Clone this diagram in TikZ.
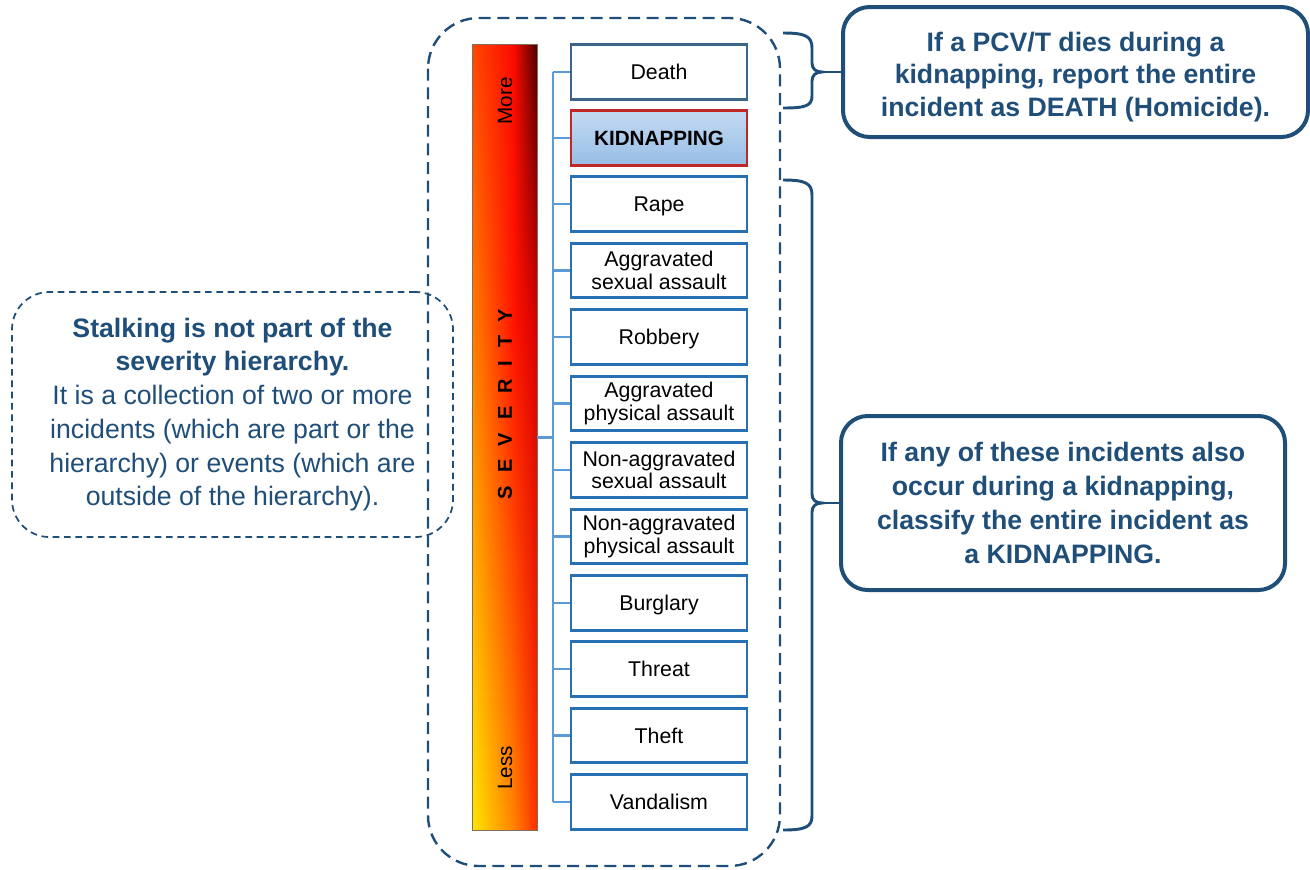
\documentclass[tikz,border=0pt]{standalone}
\usepackage{fontspec}
\setmainfont{Liberation Sans}
\usetikzlibrary{shadings}
\definecolor{navy}{RGB}{31,78,121}
\definecolor{treeblue}{RGB}{91,155,213}
\definecolor{boxblue}{RGB}{40,112,180}
\definecolor{deathblue}{RGB}{62,100,138}
\definecolor{kidred}{RGB}{192,40,40}
\definecolor{kidtop}{RGB}{196,218,242}
\definecolor{kidbot}{RGB}{150,190,230}
% bar colours: L = left column, M = split, R = right edge; T top, C middle, B bottom
\definecolor{LT}{RGB}{255,70,0}
\definecolor{MT}{RGB}{250,10,0}
\definecolor{RT}{RGB}{75,0,0}
\definecolor{LC}{RGB}{255,125,0}
\definecolor{MC}{RGB}{255,20,0}
\definecolor{RC}{RGB}{215,0,0}
\definecolor{LB}{RGB}{255,228,0}
\definecolor{MB}{RGB}{255,130,0}
\definecolor{RB}{RGB}{255,45,0}
\definecolor{barline}{RGB}{130,110,90}
\begin{document}
\begin{tikzpicture}[x=0.75pt,y=-0.75pt,
  crime/.style={draw=boxblue, line width=2.2pt, fill=white, minimum width=132pt,
    minimum height=41pt, inner sep=0pt, align=center,
    font=\fontsize{16}{16.8}\selectfont},
  oneline/.style={text depth=0pt},
  tree/.style={draw=treeblue, line width=1.7pt},
  callout/.style={draw=navy, line width=3pt, rounded corners=20pt, inner sep=0pt},
  callouttext/.style={align=center, text=navy, inner sep=0pt, font=\fontsize{20}{24.2}\selectfont\bfseries},
  bracepath/.style={draw=navy, line width=2.2pt},
  bigframe/.style={draw=navy, line width=1.8pt, dash pattern=on 9pt off 5pt, rounded corners=38pt},
  notebox/.style={draw=navy, line width=1.3pt, dash pattern=on 5pt off 3.5pt, rounded corners=28pt,
    align=center, text=navy, inner sep=0pt, font=\fontsize{20}{25.3}\selectfont},
  barlabel/.style={rotate=90, font=\fontsize{15.5}{18}\selectfont}
]
\useasboundingbox (0,0) rectangle (1310,869);

% big dashed frame
\draw[bigframe] (428,18) rectangle (780,866);

% severity bar
\node[minimum width=48pt, minimum height=588.75pt, inner sep=0pt] (bar) at (505,437.5) {};
\shade[upper left=LT, upper right=MT, lower left=LC, lower right=MC] (473,45) rectangle (514,331);
\shade[upper left=MT, upper right=RT, lower left=MC, lower right=RC] (513.5,45) rectangle (537,331);
\shade[upper left=LC, upper right=MC, lower left=LB, lower right=MB] (473,330) rectangle (514,830);
\shade[upper left=MC, upper right=RC, lower left=MB, lower right=RB] (513.5,330) rectangle (537,830);
\draw[barline, line width=0.8pt] (bar.south west) rectangle (bar.north east);
\node[barlabel] (more) at (505,101) {More};
\node[barlabel] (less) at (505,768) {Less};
\node[rotate=90, font=\fontsize{15}{18}\selectfont\bfseries] (sev) at (505,404)
  {S\hspace{9.8pt}E\hspace{9.8pt}V\hspace{9.8pt}E\hspace{9.8pt}R\hspace{9.8pt}I\hspace{9.8pt}T\hspace{9.8pt}Y};

% boxes
\node[crime, oneline, draw=deathblue] (death) at (659,72) {Death};
\node[crime, oneline, draw=kidred, top color=kidtop, bottom color=kidbot, font=\fontsize{15.5}{16.5}\selectfont\bfseries] (kid) at (659,138) {KIDNAPPING};
\node[crime, oneline] (rape) at (659,204) {Rape};
\node[crime] (ags) at (659,270.5) {Aggravated\\sexual assault};
\node[crime, oneline] (rob) at (659,337) {Robbery};
\node[crime] (agp) at (659,403.5) {Aggravated\\physical assault};
\node[crime] (nas) at (659,470) {Non-aggravated\\sexual assault};
\node[crime] (nap) at (659,536.5) {Non-aggravated\\physical assault};
\node[crime, oneline] (burg) at (659,603) {Burglary};
\node[crime, oneline] (thr) at (659,669) {Threat};
\node[crime, oneline] (theft) at (659,735.5) {Theft};
\node[crime, oneline] (vand) at (659,802) {Vandalism};

% tree connectors
\coordinate (trunk) at (553,0);
\draw[tree] (death.west -| trunk) -- (vand.west -| trunk);
\foreach \b in {death,kid,rape,ags,rob,agp,nas,nap,burg,thr,theft,vand}
  \draw[tree] (\b.west) -- (\b.west -| trunk);
\draw[tree] (bar.east) -- (bar.east -| trunk);

% callouts
\node[callout, minimum width=348.75pt, minimum height=97.5pt] (c1) at (1075.5,72) {};
\node[callouttext] (c1t) at (1075.5,77)
  {If a PCV/T dies during a\\kidnapping, report the entire\\incident as DEATH (Homicide).};
\node[callout, minimum width=333pt, minimum height=130.5pt] (c2) at (1063,503) {};
\node[callouttext, font=\fontsize{20}{25.3}\selectfont\bfseries] (c2t) at (1063,503)
  {If any of these incidents also\\occur during a kidnapping,\\classify the entire incident as\\a KIDNAPPING.};

% braces
\coordinate (t1) at (822,72);
\draw[bracepath] (783,33) .. controls (805,33) and (812,36) .. (812,48) -- (812,63)
  .. controls (812,69) and (816,72) .. (t1) .. controls (816,72) and (812,75) .. (812,81)
  -- (812,96) .. controls (812,106) and (805,108) .. (783,108);
\draw[bracepath] (t1) -- (c1.west);
\coordinate (t2) at (822,503);
\draw[bracepath] (783,180) .. controls (805,180) and (812,183) .. (812,195) -- (812,494)
  .. controls (812,500) and (816,503) .. (t2) .. controls (816,503) and (812,506) .. (812,512)
  -- (812,816) .. controls (812,827) and (805,830) .. (783,830);
\draw[bracepath] (t2) -- (c2.west);

% stalking note
\node[notebox, minimum width=330.75pt, minimum height=183.75pt] (note) at (232.5,414.5)
  {\textbf{Stalking is not part of the}\\\textbf{severity hierarchy.}\\It is a collection of two or more\\incidents (which are part or the\\hierarchy) or events (which are\\outside of the hierarchy).};
\end{tikzpicture}
\end{document}
